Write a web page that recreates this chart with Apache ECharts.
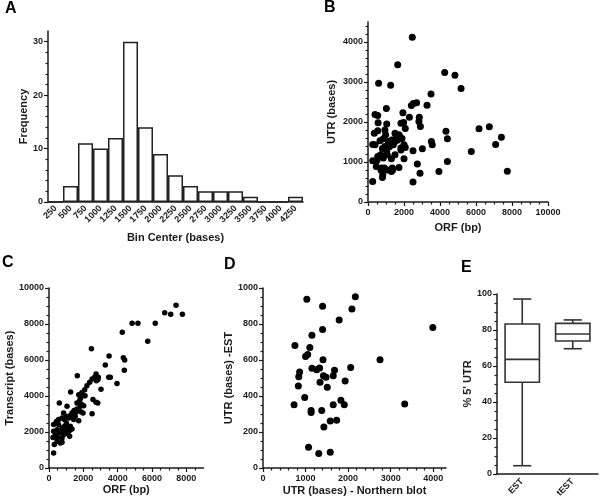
<!DOCTYPE html>
<html>
<head>
    <meta charset="utf-8">
    <script src="https://cdn.jsdelivr.net/npm/echarts@6/dist/echarts.min.js"></script>
    <title>UTR figure</title>
    <style>
        * { margin: 0; padding: 0; }
        #chart { width: 600px; height: 503px; background: #fff; }
    </style>
</head>
<body>
    <div id="chart"></div>
    <script>
        // A: histogram of UTR length
        var binCenters = ['250', '500', '750', '1000', '1250', '1500', '1750', '2000', '2250',
            '2500', '2750', '3000', '3250', '3500', '3750', '4000', '4250'];
        var binCounts = [0, 3, 11, 10, 12, 30, 14, 9, 5, 3, 2, 2, 2, 1, 0, 0, 1];

        // B: ORF vs UTR
        var bOrf = [2460, 1650, 590, 1260, 4260, 4830, 5170, 3500, 1020, 390, 540, 2410, 2520, 2700, 3280, 1940,
            2300, 2850, 2830, 2910, 2070, 1830, 1980, 560, 1040, 350, 540, 940, 1500, 1570, 1760, 1890, 4330, 4410,
            6170, 6740, 7410, 7090, 5740, 7740, 4410, 3940, 3520, 3570, 3020, 2500, 2070, 2000, 1830, 2740, 2890,
            2500, 260, 2000, 1720, 1350, 1300, 800, 820, 260, 500, 460, 760, 850, 1070, 1300, 260, 390, 670, 850,
            1130, 1320, 1500, 1650, 940, 1190, 1040, 700, 540, 1500, 1370, 1070, 910, 720, 1830, 800, 1410, 1720,
            980, 1220];
        var bUtr = [4120, 3430, 2970, 2920, 3240, 3170, 2840, 2700, 2340, 2190, 2160, 2410, 2460, 2480, 2420, 2230,
            2120, 2120, 2010, 1890, 1840, 1970, 1990, 1980, 1950, 1720, 1780, 1800, 1720, 1660, 1640, 1590, 1770, 1580,
            1830, 1880, 1620, 1440, 1260, 770, 1010, 760, 1510, 1430, 1330, 1280, 1360, 1430, 1350, 950, 720,
            500, 510, 1080, 860, 850, 760, 610, 680, 1030, 1040, 890, 850, 1100, 1180, 1080, 1440, 1430, 1530, 1580,
            1510, 1550, 1510, 1550, 1390, 1380, 1260, 1180, 1140, 1180, 800, 800, 850, 800, 1300, 1340, 1430, 1680,
            1680, 1470];

        // C: ORF vs transcript
        var cOrf = [7400, 6740, 7090, 7770, 4840, 5180, 6190, 4270, 5750, 2470, 3500, 4330, 4410, 3280, 4390, 1650,
            2740, 2660, 2510, 2850, 2370, 2760, 2870, 3480, 3570, 3960, 3030, 1260, 1920, 2100, 2020, 1830, 2560,
            2740, 2840, 1790, 600, 1920, 2020, 1050, 1630, 1460, 1570, 1850, 1980, 2510, 1340, 1240, 1730, 850, 990,
            1150, 890, 760, 560, 430, 270, 560, 1010, 1240, 1340, 1150, 910, 760, 470, 270, 700, 950, 1200, 370, 620,
            850, 1090, 230, 500, 760, 1200, 470, 760, 310, 660, 270, 2210, 1730, 2080, 1440, 1530, 1830, 1630];
        var cTranscript = [9040, 8630, 8540, 8540, 8040, 8040, 8040, 7540, 7040, 6630, 6220, 6130, 6000, 5720, 5430,
            5130, 5220, 5040, 4940, 4910, 4760, 4850, 5040, 5040, 5040, 4700, 4370, 4220, 4200, 4020, 4020, 3870,
            3800, 3650, 3610, 3740, 3610, 3520, 3460, 3430, 3280, 3190, 3110, 3130, 3060, 3020, 3060, 2910, 2630,
            3060, 2870, 2780, 2690, 2780, 2690, 2590, 2410, 2410, 2500, 2320, 2170, 2220, 2320, 2220, 2130, 2040,
            2040, 2040, 2090, 1850, 1940, 1850, 1910, 1700, 1700, 1670, 1760, 1480, 1430, 1300, 1390, 830, 4570,
            4070, 4350, 2690, 2870, 3430, 3610];

        // D: UTR northern blot vs EST
        var dNorthern = [1030, 1400, 2170, 2090, 1790, 1400, 3990, 1150, 750, 1100, 1000, 1050, 1410, 2750, 1150, 1260,
            1330, 1680, 2060, 860, 840, 1420, 1480, 1650, 1340, 1930, 830, 1510, 980, 730, 1830, 1650, 1910, 3330,
            1130, 1130, 1380, 1580, 1730, 1430, 1070, 1310, 1580];
        var dEst = [937, 898, 952, 883, 822, 769, 781, 737, 680, 669, 620, 631, 602, 602, 554, 546, 556, 543, 559, 533,
            507, 513, 504, 513, 476, 483, 456, 448, 391, 352, 376, 352, 352, 356, 320, 309, 320, 261, 265, 228, 115,
            81, 87];

        // E: % 5' UTR box plot
        var eCats = ['EST', 'tEST'];
        var eMin = [4.6, 69.6];
        var eQ1 = [51, 73.9];
        var eMed = [63.7, 77.8];
        var eQ3 = [83.3, 83.7];
        var eMax = [97.2, 85.6];

        // tick labels
        var aTicks = [0, 10, 20, 30];
        var bxTicks = [0, 2000, 4000, 6000, 8000, 10000];
        var byTicks = [0, 1000, 2000, 3000, 4000];
        var cxTicks = [0, 2000, 4000, 6000, 8000];
        var cyTicks = [0, 2000, 4000, 6000, 8000, 10000];
        var dxTicks = [0, 1000, 2000, 3000, 4000];
        var dyTicks = [0, 200, 400, 600, 800, 1000];
        var eyTicks = [0, 20, 40, 60, 80, 100];

        var FONT = '"Liberation Sans", Arial, sans-serif';
        var INK = '#1a1a1a';

        function pairs(xs, ys) {
            var out = [];
            for (var i = 0; i < xs.length; i++) out.push([xs[i], ys[i]]);
            return out;
        }

        // common value axis
        function valAxis(grid, min, max, interval, ticks, minorSplit, name, nameGap, isY) {
            return {
                type: 'value',
                gridIndex: grid,
                min: min,
                max: max,
                interval: interval,
                name: name,
                nameLocation: 'middle',
                nameGap: nameGap,
                nameTextStyle: { fontFamily: FONT, fontWeight: 'bold', fontSize: 11, color: INK },
                axisLine: { show: true, lineStyle: { color: INK, width: 1.5 } },
                axisTick: { show: true, length: 4, customValues: ticks, lineStyle: { color: INK, width: 1.2 } },
                minorTick: { show: true, splitNumber: minorSplit, length: 2.5, lineStyle: { color: INK, width: 1.2 } },
                axisLabel: {
                    customValues: ticks,
                    formatter: function (v) { return String(v); },
                    fontFamily: FONT, fontWeight: 'bold', fontSize: 9, color: INK,
                    margin: isY ? 5 : 6
                },
                splitLine: { show: false }
            };
        }

        function renderBox(params, api) {
            var xi = api.value(0);
            var lo = api.coord([xi, api.value(1)]);
            var q1 = api.coord([xi, api.value(2)]);
            var med = api.coord([xi, api.value(3)]);
            var q3 = api.coord([xi, api.value(4)]);
            var hi = api.coord([xi, api.value(5)]);
            var band = api.size([1, 0])[0];
            var hw = band * 0.34, cw = band * 0.18;
            var x = med[0];
            var st = { stroke: '#333', lineWidth: 1.6, fill: null };
            return {
                type: 'group',
                children: [
                    { type: 'line', shape: { x1: x, y1: hi[1], x2: x, y2: q3[1] }, style: st },
                    { type: 'line', shape: { x1: x, y1: q1[1], x2: x, y2: lo[1] }, style: st },
                    { type: 'line', shape: { x1: x - cw, y1: hi[1], x2: x + cw, y2: hi[1] }, style: st },
                    { type: 'line', shape: { x1: x - cw, y1: lo[1], x2: x + cw, y2: lo[1] }, style: st },
                    { type: 'rect', shape: { x: x - hw, y: q3[1], width: hw * 2, height: q1[1] - q3[1] },
                        style: { stroke: '#333', lineWidth: 1.6, fill: '#fff' } },
                    { type: 'line', shape: { x1: x - hw, y1: med[1], x2: x + hw, y2: med[1] }, style: st }
                ]
            };
        }

        var boxData = [];
        for (var i = 0; i < eCats.length; i++) {
            boxData.push([i, eMin[i], eQ1[i], eMed[i], eQ3[i], eMax[i]]);
        }

        var letterStyle = { fontFamily: FONT, fontWeight: 'bold', fontSize: 16, color: '#000' };

        var view = echarts.init(document.getElementById('chart'), null, { renderer: 'canvas' });
        var option = {
            animation: false,
            backgroundColor: '#fff',
            title: [
                { text: 'A', left: 5, top: 1, padding: 0, textStyle: letterStyle },
                { text: 'B', left: 324, top: 0, padding: 0, textStyle: letterStyle },
                { text: 'C', left: 2, top: 255, padding: 0, textStyle: letterStyle },
                { text: 'D', left: 224, top: 257, padding: 0, textStyle: letterStyle },
                { text: 'E', left: 461, top: 260, padding: 0, textStyle: letterStyle }
            ],
            grid: [
                { left: 48, top: 31, width: 255, height: 171, outerBoundsMode: 'none' },
                { left: 368, top: 22, width: 180, height: 180, outerBoundsMode: 'none' },
                { left: 49, top: 288, width: 154.5, height: 180, outerBoundsMode: 'none' },
                { left: 263, top: 288, width: 183, height: 180, outerBoundsMode: 'none' },
                { left: 497, top: 294, width: 101, height: 180, outerBoundsMode: 'none' }
            ],
            xAxis: [
                {
                    type: 'category',
                    gridIndex: 0,
                    data: binCenters,
                    name: 'Bin Center (bases)',
                    nameLocation: 'middle',
                    nameGap: 30,
                    nameTextStyle: { fontFamily: FONT, fontWeight: 'bold', fontSize: 11, color: INK },
                    axisLine: { lineStyle: { color: INK, width: 1.5 } },
                    axisTick: { alignWithLabel: true, interval: 0, length: 4, lineStyle: { color: INK, width: 1.2 } },
                    axisLabel: { interval: 0, rotate: 45, margin: 5, fontFamily: FONT, fontWeight: 'bold', fontSize: 9, color: INK }
                },
                valAxis(1, 0, 10000, 2000, bxTicks, 4, 'ORF (bp)', 20, false),
                valAxis(2, 0, 9000, 2000, cxTicks, 4, 'ORF (bp)', 16, false),
                valAxis(3, 0, 4300, 1000, dxTicks, 5, 'UTR (bases) - Northern blot', 17, false),
                {
                    type: 'category',
                    gridIndex: 4,
                    data: eCats,
                    axisLine: { lineStyle: { color: INK, width: 1.5 } },
                    axisTick: { alignWithLabel: true, length: 4, lineStyle: { color: INK, width: 1.2 } },
                    axisLabel: { interval: 0, rotate: 45, margin: 6, fontFamily: FONT, fontWeight: 'bold', fontSize: 9, color: INK }
                }
            ],
            yAxis: [
                valAxis(0, 0, 32, 10, aTicks, 5, 'Frequency', 18, true),
                valAxis(1, 0, 4500, 1000, byTicks, 5, 'UTR (bases)', 31, true),
                valAxis(2, 0, 10000, 2000, cyTicks, 4, 'Transcript (bases)', 33, true),
                valAxis(3, 0, 1000, 200, dyTicks, 4, 'UTR (bases) -EST', 29, true),
                valAxis(4, 0, 100, 20, eyTicks, 4, "% 5' UTR", 18, true)
            ],
            series: [
                {
                    type: 'bar',
                    xAxisIndex: 0, yAxisIndex: 0,
                    data: binCounts,
                    barCategoryGap: '0%',
                    itemStyle: { color: '#fff', borderColor: '#222', borderWidth: 1.5 }
                },
                {
                    type: 'scatter',
                    xAxisIndex: 1, yAxisIndex: 1,
                    data: pairs(bOrf, bUtr),
                    symbolSize: 7,
                    itemStyle: { color: '#000', opacity: 1 }
                },
                {
                    type: 'scatter',
                    xAxisIndex: 2, yAxisIndex: 2,
                    data: pairs(cOrf, cTranscript),
                    symbolSize: 5.5,
                    itemStyle: { color: '#000', opacity: 1 }
                },
                {
                    type: 'scatter',
                    xAxisIndex: 3, yAxisIndex: 3,
                    data: pairs(dNorthern, dEst),
                    symbolSize: 7,
                    itemStyle: { color: '#000', opacity: 1 }
                },
                {
                    type: 'custom',
                    xAxisIndex: 4, yAxisIndex: 4,
                    data: boxData,
                    renderItem: renderBox,
                    encode: { x: 0, y: [1, 2, 3, 4, 5] }
                }
            ]
        };
        view.setOption(option);
    </script>
</body>
</html>
